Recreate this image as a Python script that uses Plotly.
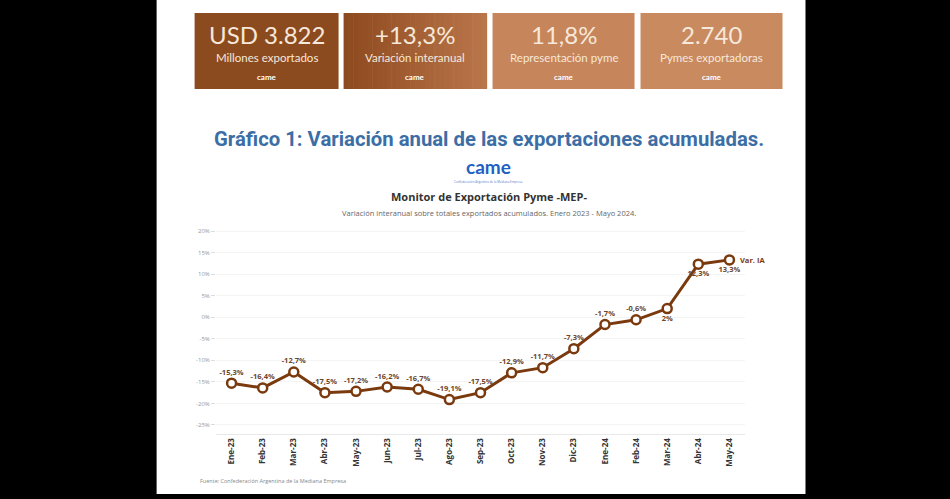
import plotly.graph_objects as go

# ---------------- data ----------------
months = ["Ene-23", "Feb-23", "Mar-23", "Abr-23", "May-23", "Jun-23", "Jul-23", "Ago-23",
          "Sep-23", "Oct-23", "Nov-23", "Dic-23", "Ene-24", "Feb-24", "Mar-24", "Abr-24", "May-24"]
var_ia = [-15.3, -16.4, -12.7, -17.5, -17.2, -16.2, -16.7, -19.1,
          -17.5, -12.9, -11.7, -7.3, -1.7, -0.6, 2.0, 12.3, 13.3]
label_pos = ["top center"] * 14 + ["bottom center"] * 3
y_ticks = [20, 15, 10, 5, 0, -5, -10, -15, -20, -25]
y_tick_labels = [f"{v}%" for v in y_ticks]

kpi_values = ["USD 3.822", "+13,3%", "11,8%", "2.740"]
kpi_labels = ["Millones exportados", "Variación interanual", "Representación pyme", "Pymes exportadoras"]

series_name = "Var. IA"


def fmt(v):
    s = f"{v:.1f}".rstrip("0").rstrip(".")
    return s.replace(".", ",") + "%"


# ---------------- geometry (pixels) ----------------
FW, FH = 950, 499
L, R_EDGE, T, B_EDGE = 216.4, 745.5, 226.0, 434.0
W, H = R_EDGE - L, B_EDGE - T


def px(x):
    return (x - L) / W


def py(y):
    return 1 - (y - T) / H


BROWN = "#7A3A0E"

fig = go.Figure()
fig.add_trace(go.Scatter(
    x=list(range(len(months))), y=var_ia, mode="lines+markers+text",
    line=dict(color=BROWN, width=3),
    marker=dict(size=9, color="white", line=dict(color=BROWN, width=2.5)),
    text=[fmt(v) for v in var_ia], textposition=label_pos,
    textfont=dict(family="Open Sans", size=7.5, color="#6b4630", weight="bold"),
    cliponaxis=False, showlegend=False, name=series_name,
))

shapes = []
annotations = []

# white page area
shapes.append(dict(type="rect", xref="paper", yref="paper", layer="below",
                   x0=px(157), x1=px(806), y0=py(494), y1=py(0),
                   fillcolor="white", line=dict(width=0)))

# KPI boxes
boxes = [(195, 339), (344, 487), (493, 635), (641, 783)]
box_colors = ["#8C4A1F", None, "#C6855A", "#C98A5F"]


def lerp(c1, c2, t):
    a = [int(c1[i:i + 2], 16) for i in (1, 3, 5)]
    b = [int(c2[i:i + 2], 16) for i in (1, 3, 5)]
    return "#" + "".join(f"{round(a[k] + (b[k] - a[k]) * t):02x}" for k in range(3))


def ann(x, y, text, font, **kw):
    d = dict(xref="paper", yref="paper", x=px(x), y=py(y), text=text, showarrow=False,
             xanchor="center", yanchor="middle", font=font)
    d.update(kw)
    annotations.append(d)


for i, (x0, x1) in enumerate(boxes):
    if box_colors[i] is None:
        n = 30
        step = (x1 - x0) / n
        for k in range(n):
            shapes.append(dict(type="rect", xref="paper", yref="paper", layer="below",
                               x0=px(x0 + k * step), x1=px(x0 + (k + 1) * step + 0.6),
                               y0=py(89), y1=py(13),
                               fillcolor=lerp("#8E4A1E", "#B9764A", k / (n - 1)),
                               line=dict(width=0)))
    else:
        shapes.append(dict(type="rect", xref="paper", yref="paper", layer="below",
                           x0=px(x0), x1=px(x1), y0=py(89), y1=py(13),
                           fillcolor=box_colors[i], line=dict(width=0)))
    cx = (x0 + x1) / 2
    ann(cx, 34, kpi_values[i], dict(family="Lato", size=24, color="#F6E8DA"))
    ann(cx, 57, kpi_labels[i], dict(family="Lato", size=11.5, color="#F6E8DA"))
    ann(cx, 77, "<b>came</b>", dict(family="Lato", size=8, color="#FFFFFF"))

# titles
ann(489, 139, "<b>Gráfico 1: Variación anual de las exportaciones acumuladas.</b>",
    dict(family="Roboto", size=20.3, color="#3C6EA6"))
ann(489, 167, "<b>came</b>", dict(family="Lato", size=19, color="#1F5FC4"))
ann(489, 182, "Confederación Argentina de la Mediana Empresa",
    dict(family="Open Sans", size=3, color="#5a7bbf"))
ann(489, 196, "<b>Monitor de Exportación Pyme -MEP-</b>",
    dict(family="Open Sans", size=11, color="#333333"))
ann(489, 213, "Variación interanual sobre totales exportados acumulados. Enero 2023 - Mayo 2024.",
    dict(family="Open Sans", size=7.5, color="#666666"))
ann(198, 481, "Fuente: Confederación Argentina de la Mediana Empresa",
    dict(family="Open Sans", size=5.5, color="#888888"), xanchor="left")

# series label at last point
annotations.append(dict(xref="x", yref="y", x=len(months) - 1, y=var_ia[-1], xanchor="left",
                        yanchor="middle", xshift=9, text=f"<b>{series_name}</b>", showarrow=False,
                        font=dict(family="Open Sans", size=7.5, color=BROWN)))

fig.update_layout(
    width=FW, height=FH,
    margin=dict(l=L, r=FW - R_EDGE, t=T, b=FH - B_EDGE, pad=0),
    paper_bgcolor="black", plot_bgcolor="rgba(0,0,0,0)",
    shapes=shapes, annotations=annotations,
    xaxis=dict(range=[-0.5, len(months) - 0.5], tickmode="array",
               tickvals=list(range(len(months))), ticktext=months, tickangle=-90,
               tickfont=dict(family="Open Sans", size=8, color="#333333", weight="bold"),
               showgrid=False, showline=True, linecolor="#e8e8e8", linewidth=1,
               zeroline=False, ticks=""),
    yaxis=dict(range=[-27.09, 21.16], tickmode="array", tickvals=y_ticks,
               ticktext=y_tick_labels, tickfont=dict(family="Open Sans", size=6, color="#999999"),
               showgrid=True, gridcolor="#f4f4f4", zeroline=False, ticks="outside",
               ticklen=4, tickcolor="#dddddd", showline=False),
    showlegend=False,
)

fig.write_html("out.html", config={"displayModeBar": False},
               post_script="document.body.style.margin='0';document.body.style.background='black';")
